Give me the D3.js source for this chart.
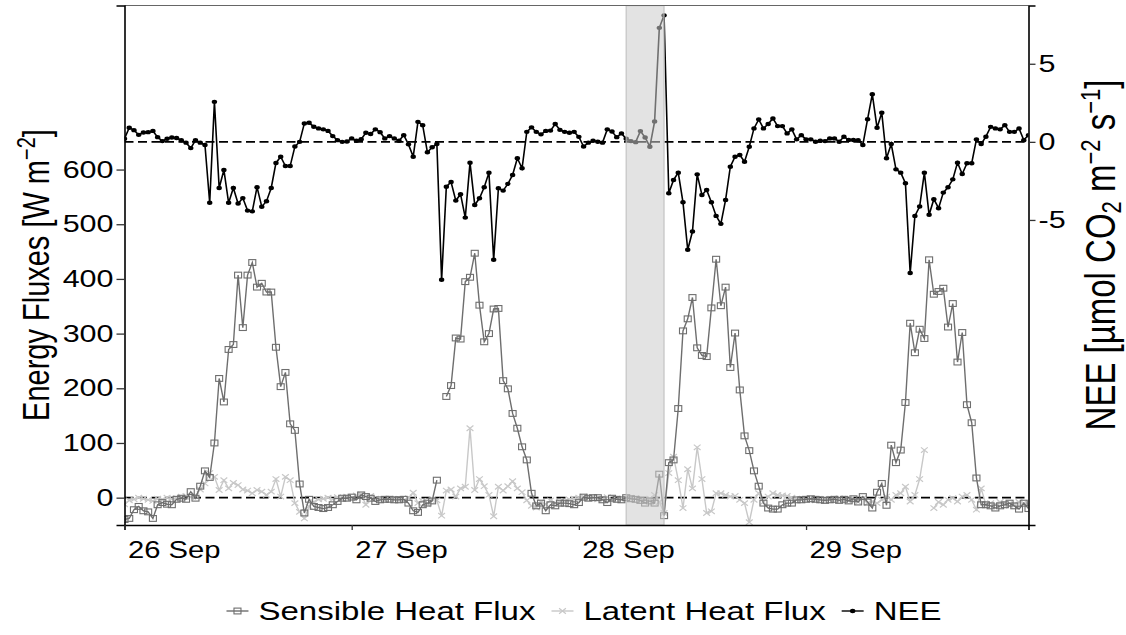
<!DOCTYPE html>
<html>
<head>
<meta charset="utf-8">
<script src="https://cdn.jsdelivr.net/npm/d3@7"></script>
<style>
  body { margin: 0; background: #fff; }
  text { font-family: "Liberation Sans", Arial, sans-serif; fill: #000; }
</style>
</head>
<body>
<svg id="chart" width="1126" height="635"></svg>
<script>
// half-hourly series, first value at startTime
var startTime = "2021-09-26 00:00";
var stepMinutes = 30;

var sensible = [
  -40, -38, -22, -16, -24, -26, -38, -13, -9, -12,
  -13, -3, -1, -3, 11, -1, 21, 49, 37, 100,
  218, 175, 271, 280, 407, 311, 407, 430, 385, 392,
  376, 376, 275, 203, 229, 135, 123, 25, -28, -3,
  -16, -18, -20, -18, -13, -7, -1, -1, 1, -4,
  5, 2, -1, -7, -4, -3, -3, -4, -4, -3,
  -10, -24, -27, -13, -10, -6, 32, null, 185, 205,
  292, 290, 395, 403, 447, 352, 285, 300, 345, 346,
  214, 199, 154, 127, 93, 69, 8, -15, -10, -24,
  -13, -15, -10, -10, -11, -13, -9, 1, -1, 0,
  0, -4, -9, -1, -3, -4, 0, -2, -3, -5,
  -10, -6, -10, 43, -33, 64, 69, 163, 305, 327,
  366, 274, 260, 258, 347, 436, 351, 385, 238, 301,
  197, 113, 86, 49, 21, -10, -19, -21, -21, -13,
  -10, -10, -4, -4, -3, -2, -3, -4, -5, -4,
  -3, -5, -3, -6, -2, -8, 2, -8, -19, 10,
  26, -14, 96, 64, 87, 174, 319, 265, 308, 291,
  435, 372, 377, 383, 312, 355, 248, 302, 170, 137,
  36, -13, -13, -15, -19, -15, -13, -10, -15, -21,
  -10, -20
];

var latent = [
  -12, -5, -3, 0, -2, -4, -6, -2, -3, 0,
  -2, -1, 2, 3, 1, 4, 15, 26, 45, 38,
  14, 32, 17, 27, 23, 15, 13, 8, 14, 11,
  5, 11, 34, 2, 38, 32, -10, -26, -38, -16,
  -8, -3, -2, 0, -3, 1, -2, 2, -1, 4,
  6, -13, 3, -2, -3, -4, -2, -3, -2, -5,
  -1, 9, -10, -6, -12, -3, -5, -33, 13, 15,
  2, 17, 20, 127, 14, 34, 21, 5, -34, 20,
  13, 21, 30, 17, 10, -5, -15, -18, -8, -12,
  -5, -10, -8, -6, -3, -2, 0, 2, -1, 0,
  -3, -2, 1, -4, -2, -3, -2, 0, -1, -5,
  -3, -2, 5, -8, -28, 45, 75, 32, -19, 52,
  17, 92, 34, -28, -25, 8, 8, 5, 2, 3,
  -4, -10, -45, -4, 8, -8, 2, 8, 5, 4,
  3, 0, -2, -4, -3, -2, -5, -3, -2, -4,
  -2, -1, -3, -2, -5, -8, -1, -10, -7, -10,
  -4, 2, -4, 5, 8, 20, -7, 5, 34, 87,
  null, -19, -8, -13, -4, -1, -7, 2, 5, -4,
  -22, 17, -13, -10, -12, -8, -10, -15, -12, -8,
  -10, -12
];

var nee = [
  0.2, 0.9, 0.75, 0.45, 0.6, 0.62, 0.7, 0.3, 0.05, 0.2,
  0.28, 0.25, 0.1, -0.05, -0.4, 0.1, -0.05, -0.2, -3.9, 2.56,
  -2.95, -1.8, -3.9, -2.95, -3.95, -3.6, -4.4, -4.45, -2.9, -4.15,
  -3.8, -2.95, -1.35, -0.95, -1.55, -1.55, -0.3, 0.0, 1.18, 1.22,
  0.97, 0.86, 0.8, 0.7, 0.37, 0.11, 0.0, 0.02, 0.22, 0.07,
  0.17, 0.58, 0.5, 0.8, 0.62, 0.22, 0.37, 0.22, 0.07, 0.43,
  -0.16, -0.95, 1.28, 1.07, -0.67, -0.35, -0.14, -8.83, -2.87, -2.57,
  -3.76, -3.35, -4.85, -1.33, -4.04, -3.61, -2.91, -1.97, -7.55, -2.97,
  -3.12, -2.69, -2.12, -1.05, -1.69, 0.64, 0.93, 0.64, 0.48, 0.7,
  0.72, 1.14, 0.77, 0.64, 0.58, 0.64, 0.32, -0.3, -0.05, 0.07,
  0.01, -0.05, 0.8, 0.66, 0.3, 0.54, 0.2, 0.05, -0.02, 0.69,
  0.28, -0.31, 1.3, 7.3, 8.1, -3.29, -2.44, -1.97, -3.87, -6.91,
  -5.74, -2.08, -3.4, -3.08, -3.87, -4.74, -5.25, -3.72, -1.59, -0.95,
  -0.84, -1.27, -0.31, 0.86, 1.44, 0.86, 1.14, 1.5, 1.01, 1.01,
  0.54, 0.8, 0.16, 0.43, 0.16, 0.16, 0.01, 0.07, 0.05, 0.22,
  0.22, 0.01, 0.33, 0.12, 0.12, 0.1, -0.2, 1.45, 3.05, 0.9,
  1.86, -1.05, -0.14, -1.76, -1.97, -2.65, -8.4, -4.74, -4.14, -1.97,
  -4.67, -3.67, -4.25, -3.25, -2.91, -2.4, -1.33, -2.06, -1.37, -1.37,
  0.16, -0.14, 0.33, 0.96, 0.86, 0.8, 1.07, 0.64, 0.64, 0.86,
  0.11, 0.43
];

// flagged period (grey band)
var bandStart = "2021-09-28 05:00";
var bandEnd = "2021-09-28 09:00";

var energyTicks = [0, 100, 200, 300, 400, 500, 600];
var neeTicks = [-5, 0, 5];
var seriesNames = ["Sensible Heat Flux", "Latent Heat Flux", "NEE"];

// the reference is stretched horizontally, so text is too
var SX = 1.27;
var FS_Y = 24, FS_X = 23, FS_LEG = 26, FS_TITLE = 29, FS_TITLE_R = 33;
var colSens = "#6e6e6e", colLat = "#c8c8c8", colNee = "#000";

var parse = d3.timeParse("%Y-%m-%d %H:%M");
var t0 = parse(startTime);
var times = sensible.map(function (d, i) { return d3.timeMinute.offset(t0, i * stepMinutes); });

var L = 124.5, R = 1028.5, T = 5.5, B = 525;

var x = d3.scaleTime().domain([times[0], times[times.length - 1]]).range([L, R]);
var yE = d3.scaleLinear().domain([-50, 900]).range([B, T]);
var yN = d3.scaleLinear().domain([-24.53, 8.73]).range([B, T]);

var svg = d3.select("#chart");

svg.append("defs").append("clipPath").attr("id", "clip")
  .append("rect").attr("x", L).attr("y", T).attr("width", R - L).attr("height", B - T);

var plot = svg.append("g").attr("clip-path", "url(#clip)");

function pts(arr) {
  return arr.map(function (v, i) { return { t: times[i], v: v }; });
}

// reference lines
plot.append("line").attr("x1", L).attr("x2", R).attr("y1", yE(0)).attr("y2", yE(0))
  .attr("stroke", "#000").attr("stroke-width", 1.6).attr("stroke-dasharray", "9,4.5");
plot.append("line").attr("x1", L).attr("x2", R).attr("y1", yN(0)).attr("y2", yN(0))
  .attr("stroke", "#000").attr("stroke-width", 1.6).attr("stroke-dasharray", "9,4.5");

var lineE = d3.line().defined(function (d) { return d.v !== null; })
  .x(function (d) { return x(d.t); }).y(function (d) { return yE(d.v); });
var lineN = d3.line().defined(function (d) { return d.v !== null; })
  .x(function (d) { return x(d.t); }).y(function (d) { return yN(d.v); });

function crossPath(cx, cy) {
  var a = 3.4, b = 2.7;
  return "M" + (cx - a) + "," + (cy - b) + "L" + (cx + a) + "," + (cy + b) +
    "M" + (cx - a) + "," + (cy + b) + "L" + (cx + a) + "," + (cy - b);
}

// latent
var latPts = pts(latent);
plot.append("path").datum(latPts).attr("d", lineE)
  .attr("fill", "none").attr("stroke", colLat).attr("stroke-width", 1.4);
plot.append("g").selectAll("path").data(latPts.filter(function (d) { return d.v !== null; }))
  .enter().append("path")
  .attr("d", function (d) { return crossPath(x(d.t), yE(d.v)); })
  .attr("stroke", colLat).attr("stroke-width", 1.2).attr("fill", "none");

// sensible
var sensPts = pts(sensible);
plot.append("path").datum(sensPts).attr("d", lineE)
  .attr("fill", "none").attr("stroke", colSens).attr("stroke-width", 1.4);
plot.append("g").selectAll("rect").data(sensPts.filter(function (d) { return d.v !== null; }))
  .enter().append("rect")
  .attr("x", function (d) { return x(d.t) - 3.5; })
  .attr("y", function (d) { return yE(d.v) - 2.9; })
  .attr("width", 7).attr("height", 5.8)
  .attr("fill", "none").attr("stroke", colSens).attr("stroke-width", 1.1);

// NEE
var neePts = pts(nee);
plot.append("path").datum(neePts).attr("d", lineN)
  .attr("fill", "none").attr("stroke", colNee).attr("stroke-width", 1.6);
plot.append("g").selectAll("ellipse").data(neePts)
  .enter().append("ellipse")
  .attr("cx", function (d) { return x(d.t); })
  .attr("cy", function (d) { return yN(d.v); })
  .attr("rx", 2.7).attr("ry", 2.2).attr("fill", colNee);

// grey band over the data
var b0 = x(parse(bandStart)), b1 = x(parse(bandEnd));
plot.append("rect").attr("x", b0).attr("y", T).attr("width", b1 - b0).attr("height", B - T)
  .attr("fill", "#cccccc").attr("fill-opacity", 0.55)
  .attr("stroke", "#bdbdbd").attr("stroke-opacity", 0.7).attr("stroke-width", 1.5);

// panel frame
svg.append("line").attr("x1", L).attr("x2", R).attr("y1", T).attr("y2", T)
  .attr("stroke", "#666").attr("stroke-width", 1.2);

// axes
function stretchTexts(g, xOff, anchor, size) {
  g.selectAll("text")
    .attr("x", xOff / SX)
    .attr("transform", "scale(" + SX + ",1)")
    .attr("text-anchor", anchor)
    .style("font-size", size + "px")
    .style("font-family", "'Liberation Sans', Arial, sans-serif")
    .attr("fill", "#000");
}

var axL = svg.append("g").attr("transform", "translate(" + L + ",0)")
  .call(d3.axisLeft(yE).tickValues(energyTicks).tickSize(8).tickPadding(3).tickFormat(d3.format("d")));
stretchTexts(axL, -11, "end", FS_Y);

var axR = svg.append("g").attr("transform", "translate(" + R + ",0)")
  .call(d3.axisRight(yN).tickValues(neeTicks).tickSize(7).tickPadding(3)
    .tickFormat(function (d) { return d < 0 ? "-" + Math.abs(d) : String(d); }));
stretchTexts(axR, 10, "start", FS_Y);

var axB = svg.append("g").attr("transform", "translate(0," + B + ")")
  .call(d3.axisBottom(x).ticks(d3.timeDay.every(1)).tickSize(5).tickPadding(8)
    .tickFormat(d3.timeFormat("%d %b")));
stretchTexts(axB, 3, "start", FS_X);
axB.selectAll("text").attr("dy", "0.85em");

[axL, axR, axB].forEach(function (a) {
  a.select(".domain").attr("stroke", "#000").attr("stroke-width", 1.6);
  a.selectAll(".tick line").attr("stroke", "#333").attr("stroke-width", 1.3);
});

// axis titles
var tl = svg.append("text")
  .attr("transform", "translate(49,275) scale(" + SX + ",1) rotate(-90)")
  .attr("text-anchor", "middle").style("font-size", FS_TITLE + "px");
tl.append("tspan").text("Energy Fluxes [W m");
tl.append("tspan").attr("dy", -11).style("font-size", "20px").text("\u22122");
tl.append("tspan").attr("dy", 11).text("]");

var tr = svg.append("text")
  .attr("transform", "translate(1115,255) scale(" + SX + ",1) rotate(-90)")
  .attr("text-anchor", "middle").style("font-size", FS_TITLE_R + "px");
tr.append("tspan").text("NEE [\u00b5mol CO");
tr.append("tspan").attr("dy", 5).style("font-size", "22px").text("2");
tr.append("tspan").attr("dy", -5).text(" m");
tr.append("tspan").attr("dy", -12).style("font-size", "22px").text("\u22122");
tr.append("tspan").attr("dy", 12).text(" s");
tr.append("tspan").attr("dy", -12).style("font-size", "22px").text("\u22121");
tr.append("tspan").attr("dy", 12).text("]");

// legend
var legY = 611;
var legend = svg.append("g");
var keyW = 26, keyGap = 8, itemGap = 14;
var items = legend.selectAll("g").data(seriesNames).enter().append("g");
items.append("text")
  .attr("transform", "scale(" + SX + ",1)")
  .attr("x", (keyW + keyGap) / SX).attr("y", legY).attr("dy", "0.35em")
  .style("font-size", FS_LEG + "px").text(function (d) { return d; });
var widths = [];
items.each(function () { widths.push(d3.select(this).select("text").node().getComputedTextLength() * SX); });
var total = d3.sum(widths) + widths.length * (keyW + keyGap) + (widths.length - 1) * itemGap;
var cursor = 583 - total / 2;
items.attr("transform", function (d, i) {
  var xx = cursor;
  cursor += keyW + keyGap + widths[i] + itemGap;
  return "translate(" + xx + ",0)";
});
var keyCols = [colSens, colLat, colNee];
items.append("line").attr("x1", 2).attr("x2", keyW - 2).attr("y1", legY).attr("y2", legY)
  .attr("stroke", function (d, i) { return keyCols[i]; }).attr("stroke-width", 1.4);
items.filter(function (d, i) { return i === 0; }).append("rect")
  .attr("x", keyW / 2 - 3.5).attr("y", legY - 2.9).attr("width", 7).attr("height", 5.8)
  .attr("fill", "none").attr("stroke", colSens).attr("stroke-width", 1.1);
items.filter(function (d, i) { return i === 1; }).append("path")
  .attr("d", crossPath(keyW / 2, legY))
  .attr("stroke", colLat).attr("stroke-width", 1.2);
items.filter(function (d, i) { return i === 2; }).append("ellipse")
  .attr("cx", keyW / 2).attr("cy", legY).attr("rx", 2.7).attr("ry", 2.2).attr("fill", colNee);
</script>
</body>
</html>
